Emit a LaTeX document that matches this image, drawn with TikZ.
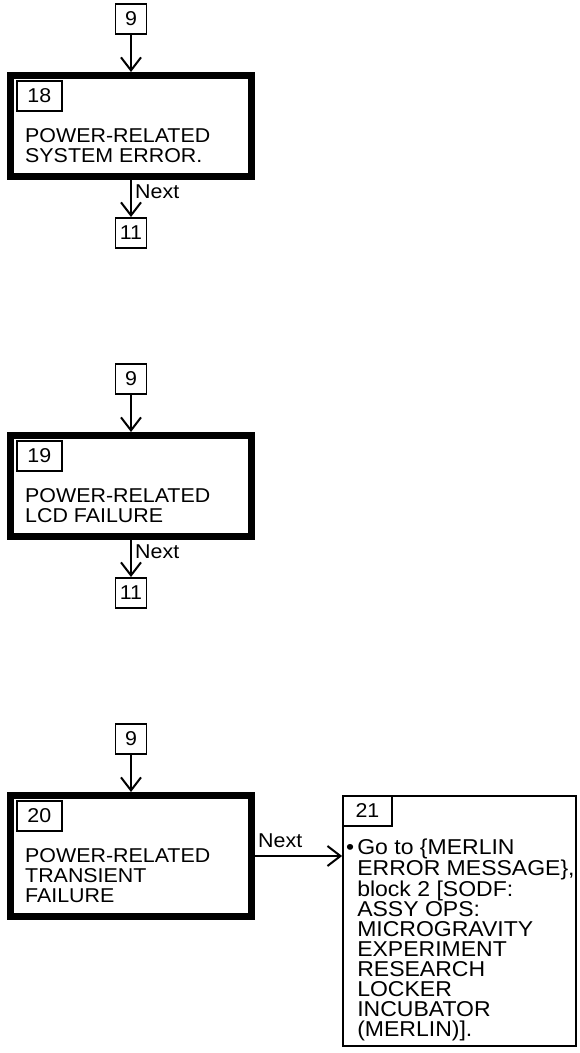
\documentclass[tikz,border=0pt]{standalone}
\usepackage{fontspec}
\setmainfont{Liberation Sans}[FakeStretch=1.07]
\usepackage{tikz}
\usetikzlibrary{positioning,arrows.meta}

\tikzset{
  stepbox/.style={draw, line width=7pt, minimum width=241pt, inner sep=0pt},
  numbox/.style={draw, line width=1.8pt, minimum width=31pt, minimum height=30pt, inner sep=0pt},
  idbox/.style={draw, line width=1.8pt, minimum width=45pt, minimum height=30pt, inner sep=0pt},
  body/.style={align=left, inner sep=0pt},
  flow/.style={line width=2pt, -{Straight Barb[length=13pt,width=20pt]}},
}

\begin{document}
\begin{tikzpicture}[x=1pt,y=-1pt,font=\fontsize{20}{20}\selectfont]
    \useasboundingbox (0,0) rectangle (579,1053);

    % block 18
    \node[stepbox, minimum height=101pt] (s18) at (131,126) {};
    \node[idbox, below right=8pt and 9pt of s18.north west] (id18) {18};
    \node[body, below right=56pt and 18pt of s18.north west] (t18) {POWER-RELATED\\SYSTEM ERROR.};
    \node[numbox, above=37pt of s18] (in18) {9};
    \node[numbox, below=37pt of s18] (out18) {11};
    \node[inner sep=0pt, below right=5pt and 4pt of s18.south] (n18) {Next};
    \draw[flow] (in18) -- (s18);
    \draw[flow] (s18) -- (out18);

    % block 19
    \node[stepbox, minimum height=101pt] (s19) at (131,486) {};
    \node[idbox, below right=8pt and 9pt of s19.north west] (id19) {19};
    \node[body, below right=56pt and 18pt of s19.north west] (t19) {POWER-RELATED\\LCD FAILURE};
    \node[numbox, above=37pt of s19] (in19) {9};
    \node[numbox, below=37pt of s19] (out19) {11};
    \node[inner sep=0pt, below right=5pt and 4pt of s19.south] (n19) {Next};
    \draw[flow] (in19) -- (s19);
    \draw[flow] (s19) -- (out19);

    % block 20 and 21
    \node[stepbox, minimum height=121pt] (s20) at (131,856) {};
    \node[idbox, below right=8pt and 9pt of s20.north west] (id20) {20};
    \node[body, below right=56pt and 18pt of s20.north west] (t20) {POWER-RELATED\\TRANSIENT\\FAILURE};
    \node[numbox, above=37pt of s20] (in20) {9};
    \draw[flow] (in20) -- (s20);

    \node[draw, line width=1.8pt, minimum width=233pt, minimum height=250pt] (b21) at (459.5,921) {};
    \node[idbox, minimum width=49pt, anchor=north west] (id21) at (b21.north west) {21};
    \node[body, font=\fontsize{21.5}{20}\selectfont, below right=44pt and 15pt of b21.north west] (t21) {\llap{\textbullet\hspace{3pt}}Go to \{MERLIN\\
        ERROR MESSAGE\},\\
        block 2 [SODF:\\
        ASSY OPS:\\
        MICROGRAVITY\\
        EXPERIMENT\\
        RESEARCH\\
        LOCKER\\
        INCUBATOR\\
        (MERLIN)].};
    \node[inner sep=0pt, above right=8pt and 3pt of s20.east] (n20) {Next};
    \draw[flow] (s20.east) -- (s20.east -| b21.west);
\end{tikzpicture}
\end{document}
